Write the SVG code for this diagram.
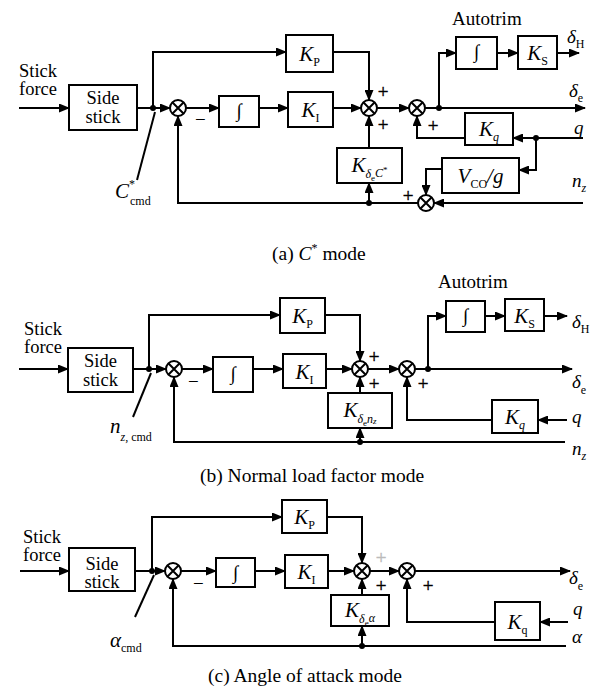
<svg xmlns="http://www.w3.org/2000/svg" width="594" height="687" viewBox="0 0 594 687">
<style>
.ln{fill:none;stroke:#000;stroke-width:2}
.ar{marker-end:url(#ah)}
.bx{fill:#fff;stroke:#000;stroke-width:2}
.dot{fill:#000}
text{font-family:"Liberation Serif","Times New Roman",serif;font-size:19px;fill:#000}
.mi{font-style:italic}
.kb{font-size:21px}
.sub{font-size:12px}
.ssub{font-size:9px}
.cap{font-size:19.5px}
.c{text-anchor:middle}
.pl{font-size:19px;text-anchor:middle;stroke:#000;stroke-width:0.4}
.faint{fill:#bbb;stroke:#bbb}
.two{font-size:18.5px}
</style>
<defs>
<marker id="ah" markerUnits="userSpaceOnUse" markerWidth="11" markerHeight="9" refX="10" refY="4.5" orient="auto">
<path d="M0,0 L11,4.5 L0,9 z" fill="#000"/>
</marker>
<g id="sum">
<circle cx="0" cy="0" r="8" fill="#fff" stroke="#000" stroke-width="2"/>
<path d="M-5.7,-5.7 L5.7,5.7 M5.7,-5.7 L-5.7,5.7" stroke="#000" stroke-width="2"/>
</g>
</defs>
<rect width="594" height="687" fill="#fff"/>

<!-- ============ Panel (a) ============ -->
<g id="a-connectors">
<path class="ln ar" d="M19,108 H69"/>
<path class="ln ar" d="M137,108 H170"/>
<path class="ln ar" d="M153,108 V52 H286"/>
<path class="ln" d="M155,112 L137,180"/>
<path class="ln ar" d="M186,108 H219"/>
<path class="ln ar" d="M259,108 H288"/>
<path class="ln ar" d="M333,52 H369 V100"/>
<path class="ln ar" d="M333,108 H361"/>
<path class="ln ar" d="M377,108 H409"/>
<path class="ln ar" d="M425,108 H585"/>
<path class="ln ar" d="M439,108 V53 H456"/>
<path class="ln ar" d="M497,53 H518"/>
<path class="ln ar" d="M557,53 H579"/>
<path class="ln ar" d="M583,138 H513"/>
<path class="ln ar" d="M465,138 H417 V116"/>
<path class="ln ar" d="M536,138 V170 H519"/>
<path class="ln ar" d="M442,169 H426 V195"/>
<path class="ln ar" d="M583,203 H434"/>
<path class="ln ar" d="M418,203 H178 V116"/>
<path class="ln ar" d="M369,203 V183"/>
<path class="ln ar" d="M369,148 V116"/>
<circle class="dot" cx="153" cy="108" r="3"/>
<circle class="dot" cx="439" cy="108" r="3"/>
<circle class="dot" cx="536" cy="138" r="3"/>
<circle class="dot" cx="369" cy="203" r="3"/>
</g>
<g id="a-input">
<text class="two" x="19" y="77">Stick</text>
<text class="two" x="19" y="95">force</text>
</g>
<g id="a-sidestick">
<rect class="bx" x="69" y="85" width="68" height="45"/>
<text class="c two" x="103" y="104">Side</text>
<text class="c two" x="103" y="123">stick</text>
</g>
<g id="a-cmd">
<text x="115" y="198"><tspan class="mi kb">C</tspan><tspan class="sub" dy="-10">*</tspan><tspan class="sub" dy="17" dx="-5">cmd</tspan></text>
</g>
<g id="a-sum1"><use href="#sum" x="178" y="108"/><text x="195" y="126">−</text></g>
<g id="a-int1"><rect class="bx" x="219" y="96" width="40" height="31"/><text class="c mi" x="239" y="117" font-size="20">∫</text></g>
<g id="a-kp"><rect class="bx" x="286" y="35" width="47" height="37"/><text class="c" x="309.5" y="60.5"><tspan class="mi kb">K</tspan><tspan class="sub" dy="5">P</tspan></text></g>
<g id="a-ki"><rect class="bx" x="288" y="92" width="45" height="35"/><text class="c" x="310.5" y="117"><tspan class="mi kb">K</tspan><tspan class="sub" dy="5">I</tspan></text></g>
<g id="a-sum2"><use href="#sum" x="369" y="108"/><text class="pl" x="383" y="98">+</text><text class="pl" x="383" y="131">+</text></g>
<g id="a-sum3"><use href="#sum" x="417" y="108"/><text class="pl" x="433" y="132">+</text></g>
<g id="a-autotrim"><text x="452" y="25">Autotrim</text></g>
<g id="a-int2"><rect class="bx" x="456" y="37" width="41" height="32"/><text class="c mi" x="476.5" y="58" font-size="20">∫</text></g>
<g id="a-ks"><rect class="bx" x="518" y="36" width="39" height="33"/><text class="c" x="537.5" y="60"><tspan class="mi kb">K</tspan><tspan class="sub" dy="5">S</tspan></text></g>
<g id="a-dH"><text x="567" y="43"><tspan class="mi">δ</tspan><tspan class="sub" dy="5">H</tspan></text></g>
<g id="a-de"><text x="569" y="97"><tspan class="mi">δ</tspan><tspan class="sub" dy="5">e</tspan></text></g>
<g id="a-kq"><rect class="bx" x="465" y="113" width="48" height="32"/><text class="c" x="489" y="136"><tspan class="mi kb">K</tspan><tspan class="sub mi" dy="5">q</tspan></text></g>
<g id="a-q"><text class="mi" x="574" y="134">q</text></g>
<g id="a-vco"><rect class="bx" x="442" y="158" width="77" height="35"/><text class="c" x="480.5" y="183"><tspan class="mi kb">V</tspan><tspan class="sub" dy="5">CO</tspan><tspan class="mi kb" dy="-5">/g</tspan></text></g>
<g id="a-sum4"><use href="#sum" x="426" y="203"/><text class="pl" x="408" y="202">+</text></g>
<g id="a-nz"><text x="572" y="187"><tspan class="mi">n</tspan><tspan class="sub mi" dy="5">z</tspan></text></g>
<g id="a-kdc"><rect class="bx" x="337" y="148" width="65" height="35"/><text class="c" x="369.5" y="172"><tspan class="mi kb">K</tspan><tspan class="sub mi" dy="6">δ</tspan><tspan class="ssub" dy="3">e</tspan><tspan class="sub mi" dy="-4">C</tspan><tspan class="ssub" dy="-4">*</tspan></text></g>
<g id="a-caption"><text class="cap" x="272" y="260">(a) <tspan class="mi">C</tspan><tspan class="sub" dy="-8">*</tspan><tspan dy="8"> mode</tspan></text></g>

<!-- ============ Panel (b) ============ -->
<g id="b-connectors">
<path class="ln ar" d="M19,369 H68"/>
<path class="ln ar" d="M133,369 H166"/>
<path class="ln ar" d="M149,369 V315 H280"/>
<path class="ln" d="M151,373 L133,417"/>
<path class="ln ar" d="M182,369 H213"/>
<path class="ln ar" d="M253,369 H283"/>
<path class="ln ar" d="M325,315 H360 V361"/>
<path class="ln ar" d="M326,369 H352"/>
<path class="ln ar" d="M368,369 H399"/>
<path class="ln ar" d="M415,369 H572"/>
<path class="ln ar" d="M428,369 V316 H446"/>
<path class="ln ar" d="M485,316 H505"/>
<path class="ln ar" d="M544,316 H567"/>
<path class="ln ar" d="M360,393 V377"/>
<path class="ln ar" d="M360,442 V428"/>
<path class="ln ar" d="M567,420 H538"/>
<path class="ln ar" d="M492,420 H407 V377"/>
<path class="ln ar" d="M565,442 H174 V377"/>
<circle class="dot" cx="149" cy="369" r="3"/>
<circle class="dot" cx="428" cy="369" r="3"/>
<circle class="dot" cx="360" cy="442" r="3"/>
</g>
<g id="b-input"><text class="two" x="24" y="335">Stick</text><text class="two" x="24" y="353">force</text></g>
<g id="b-sidestick"><rect class="bx" x="68" y="348" width="65" height="44"/><text class="c two" x="100.5" y="367">Side</text><text class="c two" x="100.5" y="386">stick</text></g>
<g id="b-cmd"><text x="110" y="433"><tspan class="mi kb">n</tspan><tspan class="sub" dy="8"><tspan class="mi">z</tspan>, cmd</tspan></text></g>
<g id="b-sum1"><use href="#sum" x="174" y="369"/><text x="188" y="388">−</text></g>
<g id="b-int1"><rect class="bx" x="213" y="357" width="40" height="35"/><text class="c mi" x="233" y="380" font-size="20">∫</text></g>
<g id="b-kp"><rect class="bx" x="280" y="298" width="45" height="35"/><text class="c" x="302.5" y="323"><tspan class="mi kb">K</tspan><tspan class="sub" dy="5">P</tspan></text></g>
<g id="b-ki"><rect class="bx" x="283" y="354" width="43" height="34"/><text class="c" x="304.5" y="378.5"><tspan class="mi kb">K</tspan><tspan class="sub" dy="5">I</tspan></text></g>
<g id="b-sum2"><use href="#sum" x="360" y="369"/><text class="pl" x="374" y="363">+</text><text class="pl" x="374" y="390">+</text></g>
<g id="b-sum3"><use href="#sum" x="407" y="369"/><text class="pl" x="423" y="390">+</text></g>
<g id="b-autotrim"><text x="438" y="288">Autotrim</text></g>
<g id="b-int2"><rect class="bx" x="446" y="301" width="39" height="31"/><text class="c mi" x="465.5" y="322" font-size="20">∫</text></g>
<g id="b-ks"><rect class="bx" x="505" y="299" width="39" height="32"/><text class="c" x="524.5" y="322.5"><tspan class="mi kb">K</tspan><tspan class="sub" dy="5">S</tspan></text></g>
<g id="b-dH"><text x="572" y="328"><tspan class="mi">δ</tspan><tspan class="sub" dy="5">H</tspan></text></g>
<g id="b-de"><text x="572" y="388"><tspan class="mi">δ</tspan><tspan class="sub" dy="6">e</tspan></text></g>
<g id="b-kdn"><rect class="bx" x="328" y="393" width="64" height="35"/><text class="c" x="360" y="417"><tspan class="mi kb">K</tspan><tspan class="sub mi" dy="6">δ</tspan><tspan class="ssub" dy="3">e</tspan><tspan class="sub mi" dy="-3">n</tspan><tspan class="ssub mi" dy="1">z</tspan></text></g>
<g id="b-kq"><rect class="bx" x="492" y="400" width="46" height="33"/><text class="c" x="515" y="424"><tspan class="mi kb">K</tspan><tspan class="sub mi" dy="5">q</tspan></text></g>
<g id="b-q"><text class="mi" x="572" y="423">q</text></g>
<g id="b-nz"><text x="572" y="455"><tspan class="mi">n</tspan><tspan class="sub mi" dy="5">z</tspan></text></g>
<g id="b-caption"><text class="cap" x="200" y="482">(b) Normal load factor mode</text></g>

<!-- ============ Panel (c) ============ -->
<g id="c-connectors">
<path class="ln ar" d="M20,571 H69"/>
<path class="ln ar" d="M135,571 H165"/>
<path class="ln ar" d="M152,571 V517 H282"/>
<path class="ln" d="M154,575 L135,617"/>
<path class="ln ar" d="M181,571 H216"/>
<path class="ln ar" d="M255,571 H285"/>
<path class="ln ar" d="M327,517 H362 V563"/>
<path class="ln ar" d="M328,571 H354"/>
<path class="ln ar" d="M370,571 H399"/>
<path class="ln ar" d="M415,571 H570"/>
<path class="ln ar" d="M362,595 V579"/>
<path class="ln ar" d="M362,646 V626"/>
<path class="ln ar" d="M568,622 H540"/>
<path class="ln ar" d="M495,622 H407 V579"/>
<path class="ln ar" d="M566,646 H173 V579"/>
<circle class="dot" cx="152" cy="571" r="3"/>
<circle class="dot" cx="362" cy="646" r="3"/>
</g>
<g id="c-input"><text class="two" x="23" y="543">Stick</text><text class="two" x="23" y="561">force</text></g>
<g id="c-sidestick"><rect class="bx" x="69" y="548" width="66" height="43"/><text class="c two" x="102" y="570">Side</text><text class="c two" x="102" y="588">stick</text></g>
<g id="c-cmd"><text x="110" y="647"><tspan class="mi kb">α</tspan><tspan class="sub" dy="5">cmd</tspan></text></g>
<g id="c-sum1"><use href="#sum" x="173" y="571"/><text x="193" y="590">−</text></g>
<g id="c-int1"><rect class="bx" x="216" y="558" width="39" height="29"/><text class="c mi" x="235.5" y="579" font-size="20">∫</text></g>
<g id="c-kp"><rect class="bx" x="282" y="500" width="45" height="33"/><text class="c" x="304.5" y="524"><tspan class="mi kb">K</tspan><tspan class="sub" dy="5">P</tspan></text></g>
<g id="c-ki"><rect class="bx" x="285" y="555" width="43" height="33"/><text class="c" x="306.5" y="579"><tspan class="mi kb">K</tspan><tspan class="sub" dy="5">I</tspan></text></g>
<g id="c-sum2"><use href="#sum" x="362" y="571"/><text class="pl faint" x="381" y="564">+</text><text class="pl" x="381" y="592">+</text></g>
<g id="c-sum3"><use href="#sum" x="407" y="571"/><text class="pl" x="428" y="592">+</text></g>
<g id="c-de"><text x="569" y="584"><tspan class="mi">δ</tspan><tspan class="sub" dy="6">e</tspan></text></g>
<g id="c-kda"><rect class="bx" x="331" y="595" width="58" height="31"/><text class="c" x="360" y="617"><tspan class="mi kb">K</tspan><tspan class="sub mi" dy="6">δ</tspan><tspan class="ssub" dy="3">e</tspan><tspan class="sub mi" dy="-4">α</tspan></text></g>
<g id="c-kq"><rect class="bx" x="495" y="602" width="45" height="38"/><text class="c" x="517.5" y="628.5"><tspan class="mi kb">K</tspan><tspan class="sub" dy="5">q</tspan></text></g>
<g id="c-q"><text class="mi" x="573" y="615">q</text></g>
<g id="c-alpha"><text class="mi" x="572" y="643">α</text></g>
<g id="c-caption"><text class="cap" x="208" y="682">(c) Angle of attack mode</text></g>
</svg>
